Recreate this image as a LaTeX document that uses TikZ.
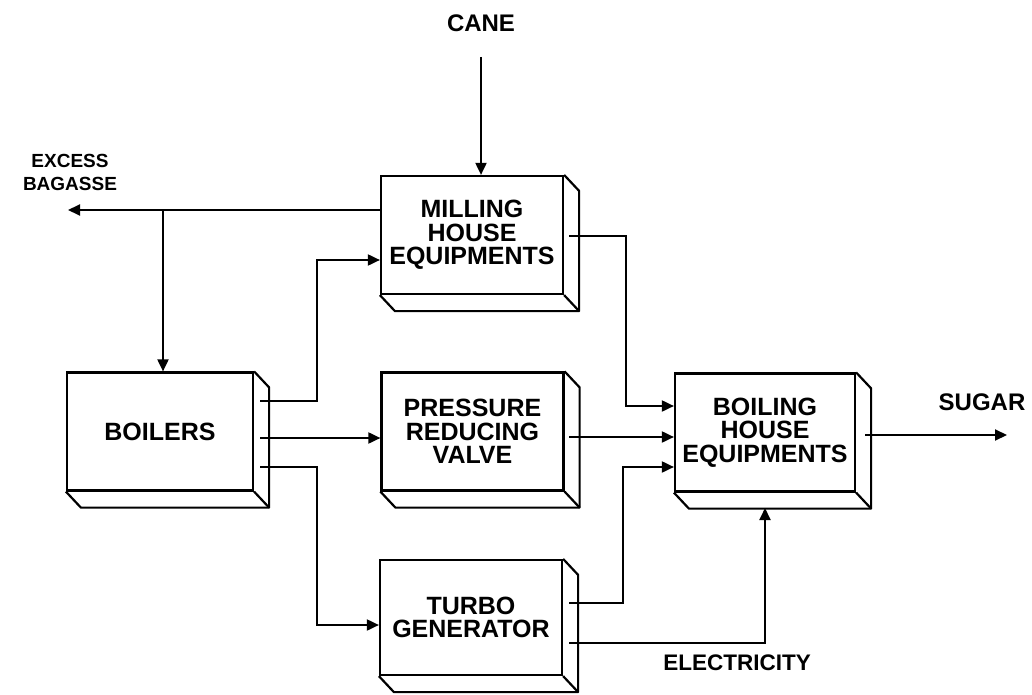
\documentclass[tikz,border=0pt]{standalone}
\usepackage{fontspec}
\setmainfont{Liberation Sans}
\usetikzlibrary{arrows.meta,calc}
\tikzset{
  box/.style={draw, line width=2.2pt, minimum width=182pt, minimum height=118pt,
    inner sep=0pt, align=center, font=\fontsize{25}{23.5}\selectfont\bfseries},
  lbl/.style={inner sep=0pt, align=center, font=\fontsize{24}{23}\selectfont\bfseries},
  arr/.style={line width=1.9pt, -{Triangle[length=12pt,width=11pt]}},
  depthline/.style={line width=2.2pt, line join=round}
}
\newcommand\depthbox[1]{%
  \draw[depthline] (#1.north east) -- ++(15,16) -- ($(#1.south east)+(15,16)$) -- ($(#1.south west)+(15,16)$) -- (#1.south west);
  \draw[depthline] (#1.south east) -- ++(15,16);
}
\begin{document}
\begin{tikzpicture}[x=1pt,y=-1pt]
\useasboundingbox (0,0) rectangle (1032,695);
% boxes
\node[box] (mill) at (472,235) {MILLING\\HOUSE\\EQUIPMENTS};
\node[box, minimum width=186pt] (boil) at (160,431.5) {BOILERS};
\node[box] (prv) at (472.5,431.5) {PRESSURE\\REDUCING\\VALVE};
\node[box, minimum width=180pt] (bhe) at (765,432.5) {BOILING\\HOUSE\\EQUIPMENTS};
\node[box, minimum height=115pt] (turbo) at (471,617.5) {TURBO\\GENERATOR};
\depthbox{mill}
\depthbox{boil}
\depthbox{prv}
\depthbox{bhe}
\depthbox{turbo}
% labels
\node[lbl] (cane) at (481,23) {CANE};
\node[lbl, font=\fontsize{19}{23}\selectfont\bfseries] (excess) at (70,172) {EXCESS\\BAGASSE};
\node[lbl] (sugar) at (982,402) {SUGAR};
\node[lbl, font=\fontsize{22.5}{23}\selectfont\bfseries] (elec) at (737,663) {ELECTRICITY};
% cane
\coordinate (c0) at (481,57);
\draw[arr] (c0) -- (c0 |- mill.north);
% excess bagasse
\coordinate (e0) at (381,210);
\coordinate (e1) at (68,210);
\coordinate (br) at (163,210);
\draw[arr] (e0) -- (e1);
\draw[arr] (br) -- (br |- boil.north);
% boilers outputs
\coordinate (b1) at (260,401);
\coordinate (k1) at (317,260);
\draw[arr] (b1) -| (k1) -- (k1 -| mill.west);
\coordinate (b2) at (260,438);
\draw[arr] (b2) -- (b2 -| prv.west);
\coordinate (b3) at (260,467);
\coordinate (k3) at (317,625);
\draw[arr] (b3) -| (k3) -- (k3 -| turbo.west);
% to boiling house
\coordinate (m1) at (569,236);
\coordinate (k4) at (626,406);
\draw[arr] (m1) -| (k4) -- (k4 -| bhe.west);
\coordinate (p1) at (569,437);
\draw[arr] (p1) -- (p1 -| bhe.west);
\coordinate (t1) at (569,603);
\coordinate (k5) at (623,467);
\draw[arr] (t1) -| (k5) -- (k5 -| bhe.west);
\coordinate (t2) at (569,643);
\coordinate (k6) at (765,508);
\draw[arr] (t2) -| (k6);
% sugar
\coordinate (s1) at (865,435);
\coordinate (s2) at (1007,435);
\draw[arr] (s1) -- (s2);
\end{tikzpicture}
\end{document}
